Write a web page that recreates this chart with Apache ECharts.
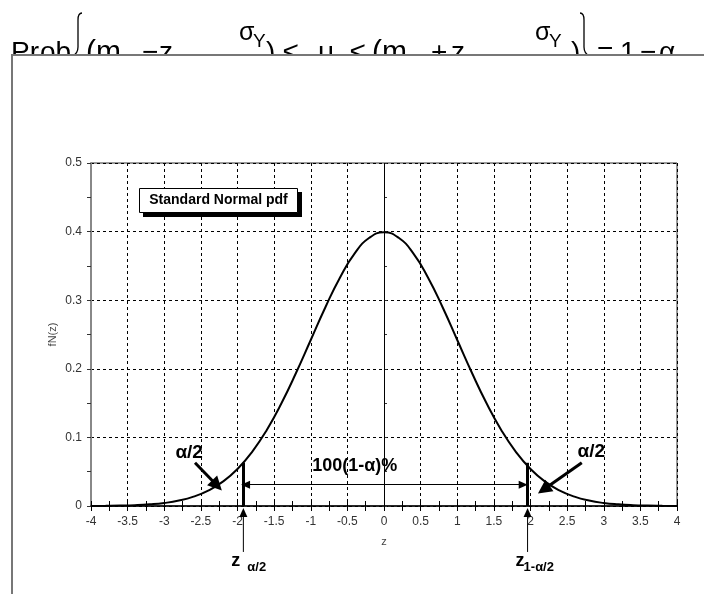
<!DOCTYPE html>
<html><head><meta charset="utf-8">
<script src="https://cdn.jsdelivr.net/npm/echarts@6/dist/echarts.min.js"></script>
<style>html,body{margin:0;padding:0;background:#fff}#c{width:704px;height:594px}</style>
</head><body><div id="c"></div>
<script>
// ---- data ----
const zGrid = [-4,-3.8,-3.6,-3.4,-3.2,-3,-2.8,-2.6,-2.4,-2.2,-2,-1.8,-1.6,-1.4,-1.2,-1,-0.8,-0.6,-0.4,-0.2,0,0.2,0.4,0.6,0.8,1,1.2,1.4,1.6,1.8,2,2.2,2.4,2.6,2.8,3,3.2,3.4,3.6,3.8,4];
const fN = [0.0001,0.0003,0.0006,0.0012,0.0024,0.0044,0.0079,0.0136,0.0224,0.0355,0.0540,0.0790,0.1109,0.1497,0.1942,0.2420,0.2897,0.3332,0.3683,0.3910,0.3989,0.3910,0.3683,0.3332,0.2897,0.2420,0.1942,0.1497,0.1109,0.0790,0.0540,0.0355,0.0224,0.0136,0.0079,0.0044,0.0024,0.0012,0.0006,0.0003,0.0001];
const xRange = [-4, 4, 0.5];
const yRange = [0, 0.5, 0.1];
const criticalZ = [-1.92, 1.96];
const criticalHeight = [0.063, 0.063];
const spanArrow = [[-1.89, 0.031], [1.90, 0.031]];
const tailArrowLeft = [[-2.58, 0.063], [-2.28, 0.030]];
const tailArrowRight = [[2.70, 0.063], [2.18, 0.024]];
const tailLabels = ['α/2', 'α/2'];
const tailLabelAt = [[-2.66, 0.077], [2.83, 0.079]];
const spanLabel = '100(1-α)%';
const spanLabelAt = [-0.40, 0.058];
const critLabels = [['z', 'α/2'], ['z', '1-α/2']];
const belowAxisArrow = [-0.067, -0.003];
const critLabelY = [-0.080, -0.089];
const boxLabel = 'Standard Normal pdf';
const titleParts = ['Pr','ob','(m','−','z','σ','Y',')','≤','μ','≤','(m','+','z','σ','Y',')','=','1','−','α'];

// ---- chart ----
const FONT = '"Liberation Sans", Arial, Helvetica, sans-serif';
const chart = echarts.init(document.getElementById('c'), null, {renderer: 'canvas'});
const curve = zGrid.map((z, i) => [z, fN[i]]);

function axisCommon(extra) {
  return Object.assign({type: 'value', silent: true}, extra);
}

const option = {
  animation: false,
  grid: {left: 91, right: 27, top: 163, bottom: 88, show: true, borderColor: '#333', borderWidth: 1, backgroundColor: 'transparent'},
  xAxis: [
    axisCommon({
      min: xRange[0], max: xRange[1], interval: xRange[2], position: 'bottom',
      name: 'z', nameLocation: 'middle', nameGap: 30, nameMoveOverlap: false,
      nameTextStyle: {fontFamily: FONT, fontSize: 11, color: '#444'},
      axisLine: {onZero: false, lineStyle: {color: '#000', width: 1.5}},
      axisTick: {show: true, length: 5, lineStyle: {color: '#000', width: 1}},
      minorTick: {show: true, splitNumber: 2, length: 5, lineStyle: {color: '#000', width: 1}},
      axisLabel: {fontFamily: FONT, fontSize: 12, color: '#333', margin: 10},
      splitLine: {show: true, lineStyle: {color: '#000', type: [3, 3], width: 1}}
    }),
    axisCommon({
      min: xRange[0], max: xRange[1], interval: xRange[2], position: 'bottom',
      axisLine: {show: false},
      axisTick: {show: true, inside: true, length: 5, lineStyle: {color: '#000', width: 1}},
      minorTick: {show: true, splitNumber: 2, length: 5, lineStyle: {color: '#000', width: 1}},
      axisLabel: {show: false}, splitLine: {show: false}
    })
  ],
  yAxis: [
    axisCommon({
      min: yRange[0], max: yRange[1], interval: yRange[2], position: 'left',
      name: 'fN(z)', nameLocation: 'middle', nameGap: 33, nameRotate: 90, nameMoveOverlap: false,
      nameTextStyle: {fontFamily: FONT, fontSize: 11, color: '#444'},
      axisLine: {show: true, onZero: false, lineStyle: {color: '#888', width: 2}},
      axisTick: {show: true, length: 4, lineStyle: {color: '#333', width: 1}},
      minorTick: {show: true, splitNumber: 2, length: 4, lineStyle: {color: '#333', width: 1}},
      axisLabel: {fontFamily: FONT, fontSize: 12, color: '#333', margin: 9},
      splitLine: {show: true, lineStyle: {color: '#000', type: [3, 3], width: 1}}
    }),
    axisCommon({
      min: yRange[0], max: yRange[1], interval: yRange[2], position: 'left',
      axisLine: {show: false},
      axisTick: {show: true, inside: true, length: 3, lineStyle: {color: '#333', width: 1}},
      minorTick: {show: true, splitNumber: 2, length: 3, lineStyle: {color: '#333', width: 1}},
      axisLabel: {show: false}, splitLine: {show: false}
    })
  ],
  series: [
    {
      type: 'line', data: curve, smooth: true, showSymbol: false, symbol: 'none',
      lineStyle: {color: '#000', width: 2}, z: 5,
      markLine: {
        silent: true, symbol: 'none', label: {show: false},
        lineStyle: {color: '#000', width: 1, type: 'solid'},
        data: [{xAxis: 0}]
      }
    },
    {
      type: 'line', data: [], z: 6,
      markLine: {
        silent: true, label: {show: false}, symbol: 'none',
        data: [
          [{coord: [criticalZ[0], 0], lineStyle: {color: '#000', width: 3, type: 'solid'}}, {coord: [criticalZ[0], criticalHeight[0]]}],
          [{coord: [criticalZ[1], 0], lineStyle: {color: '#000', width: 3, type: 'solid'}}, {coord: [criticalZ[1], criticalHeight[1]]}],
          [{coord: spanArrow[0], symbol: 'triangle', symbolSize: [8, 9], lineStyle: {color: '#000', width: 1, type: 'solid'}}, {coord: spanArrow[1], symbol: 'triangle', symbolSize: [8, 9]}],
          [{coord: tailArrowLeft[0], symbol: 'none', lineStyle: {color: '#000', width: 3, type: 'solid'}}, {coord: tailArrowLeft[1], symbol: 'triangle', symbolSize: [14, 14]}],
          [{coord: tailArrowRight[0], symbol: 'none', lineStyle: {color: '#000', width: 3, type: 'solid'}}, {coord: tailArrowRight[1], symbol: 'triangle', symbolSize: [14, 14]}]
        ]
      }
    }
  ]
};
chart.setOption(option);

const px = p => chart.convertToPixel({xAxisIndex: 0, yAxisIndex: 0}, p);
const g = [];

// title formula (lower half hidden by frame)
const titleLayout = [
  [11, 63, 28], [40, 63, 28], [86, 63, 30], [142, 63, 28], [159, 63, 28],
  [239, 42, 25], [253, 48, 19], [266, 63, 28], [283, 63, 28], [318, 63, 28],
  [350, 63, 28], [372, 63, 30], [431, 63, 28], [451, 63, 28],
  [535, 42, 25], [549, 48, 19], [571, 63, 28], [597, 63, 28], [620, 63, 28], [640, 63, 28], [659, 63, 28]
];
titleParts.forEach((t, i) => {
  const [x, base, size] = titleLayout[i];
  g.push({type: 'text', z: -20, silent: true, x: x, y: base - 0.35 * size,
    style: {text: t, font: size + 'px ' + FONT, fill: '#000', align: 'left', verticalAlign: 'middle'}});
});
// braces
const braceStyle = {stroke: '#000', lineWidth: 1.3, fill: null};
g.push({type: 'bezierCurve', z: -20, silent: true, shape: {x1: 82, y1: 13, cpx1: 78, cpy1: 13, x2: 78, y2: 20}, style: braceStyle});
g.push({type: 'line', z: -20, silent: true, shape: {x1: 78, y1: 20, x2: 78, y2: 47}, style: braceStyle});
g.push({type: 'bezierCurve', z: -20, silent: true, shape: {x1: 78, y1: 47, cpx1: 78, cpy1: 54, x2: 72, y2: 56}, style: braceStyle});
g.push({type: 'bezierCurve', z: -20, silent: true, shape: {x1: 580, y1: 13, cpx1: 584, cpy1: 13, x2: 584, y2: 20}, style: braceStyle});
g.push({type: 'line', z: -20, silent: true, shape: {x1: 584, y1: 20, x2: 584, y2: 47}, style: braceStyle});
g.push({type: 'bezierCurve', z: -20, silent: true, shape: {x1: 584, y1: 47, cpx1: 584, cpy1: 54, x2: 590, y2: 56}, style: braceStyle});
// frame
g.push({type: 'rect', z: -10, silent: true, shape: {x: 12, y: 55, width: 720, height: 600}, style: {fill: '#fff', stroke: '#777', lineWidth: 2}});

// legend-like box
g.push({type: 'rect', z: 20, silent: true, shape: {x: 143, y: 192, width: 159, height: 25}, style: {fill: '#000'}});
g.push({type: 'rect', z: 21, silent: true, shape: {x: 139.5, y: 188.5, width: 158, height: 24}, style: {fill: '#fff', stroke: '#000', lineWidth: 1}});
g.push({type: 'text', z: 22, silent: true, x: 218.5, y: 200.5, style: {text: boxLabel, font: 'bold 14px ' + FONT, fill: '#000', align: 'center', verticalAlign: 'middle'}});

// tail labels & span label
tailLabels.forEach((t, i) => {
  const p = px(tailLabelAt[i]);
  g.push({type: 'text', z: 22, silent: true, x: p[0], y: p[1], style: {text: t, font: 'bold 19px ' + FONT, fill: '#000', align: 'center', verticalAlign: 'middle'}});
});
{
  const p = px(spanLabelAt);
  g.push({type: 'text', z: 22, silent: true, x: p[0], y: p[1], style: {text: spanLabel, font: 'bold 18px ' + FONT, fill: '#000', align: 'center', verticalAlign: 'middle'}});
}
// arrows below axis + critical labels
criticalZ.forEach((c, i) => {
  const a = px([c, belowAxisArrow[0]]);
  const b = px([c, belowAxisArrow[1]]);
  g.push({type: 'line', z: 22, silent: true, shape: {x1: a[0], y1: a[1], x2: b[0], y2: b[1] + 7}, style: {stroke: '#000', lineWidth: 1}});
  g.push({type: 'polygon', z: 22, silent: true, shape: {points: [[b[0], b[1]], [b[0] - 4, b[1] + 9], [b[0] + 4, b[1] + 9]]}, style: {fill: '#000'}});
  const zp = px([c, critLabelY[0]]);
  const sp = px([c, critLabelY[1]]);
  g.push({type: 'text', z: 22, silent: true, x: zp[0] - 12, y: zp[1], style: {text: critLabels[i][0], font: 'bold 18px ' + FONT, fill: '#000', align: 'left', verticalAlign: 'middle'}});
  g.push({type: 'text', z: 22, silent: true, x: sp[0] + (i === 0 ? 4 : -4), y: sp[1], style: {text: critLabels[i][1], font: 'bold 13px ' + FONT, fill: '#000', align: 'left', verticalAlign: 'middle'}});
});

chart.setOption({graphic: g});
</script>
</body></html>
